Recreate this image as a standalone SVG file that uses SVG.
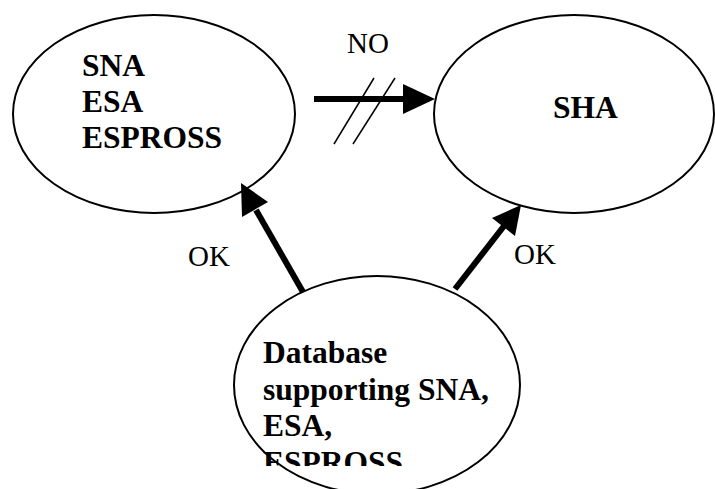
<svg xmlns="http://www.w3.org/2000/svg" width="715" height="489" viewBox="0 0 715 489">
<style>
.node{fill:#fff;stroke:#000;stroke-width:2}
.bold{font-family:"Liberation Serif","Times New Roman",serif;font-weight:bold;font-size:31.5px;fill:#000}
.lbl{font-family:"Liberation Serif","Times New Roman",serif;font-size:29px;fill:#000}
.shaft{stroke:#000;stroke-width:6;fill:none}
.head{fill:#000;stroke:none}
.slash{stroke:#000;stroke-width:1.5}
</style>
<defs>
<clipPath id="clipDb"><rect x="0" y="0" width="715" height="466"/></clipPath>
</defs>
<rect width="715" height="489" fill="#fff"/>
<g id="node-sna">
<ellipse class="node" cx="154" cy="114" rx="141" ry="99"/>
<text class="bold" x="82" y="76">SNA</text>
<text class="bold" x="82" y="112">ESA</text>
<text class="bold" x="82" y="148">ESPROSS</text>
</g>
<g id="node-sha">
<ellipse class="node" cx="574" cy="114" rx="140" ry="99"/>
<text class="bold" x="553" y="118">SHA</text>
</g>
<g id="node-db">
<ellipse class="node" cx="377" cy="385" rx="143" ry="109"/>
<g clip-path="url(#clipDb)">
<text class="bold" x="263" y="363">Database</text>
<text class="bold" x="263" y="400">supporting SNA,</text>
<text class="bold" x="263" y="436">ESA,</text>
<text class="bold" x="263" y="473">ESPROSS</text>
</g>
</g>
<g id="connectors">
<line class="shaft" x1="314" y1="99" x2="405" y2="99"/>
<polygon class="head" points="403,84 435,99 403,114"/>
<line class="slash" x1="334" y1="144" x2="374" y2="78"/>
<line class="slash" x1="353" y1="144" x2="395" y2="78"/>
<text class="lbl" x="347" y="53">NO</text>
<line class="shaft" x1="303" y1="292" x2="256" y2="210"/>
<polygon class="head" points="241,183 268,202 242,217"/>
<text class="lbl" x="188" y="266">OK</text>
<line class="shaft" x1="455" y1="289" x2="504" y2="226"/>
<polygon class="head" points="521,205 515,236 492,218"/>
<text class="lbl" x="514" y="264">OK</text>
</g>
</svg>
